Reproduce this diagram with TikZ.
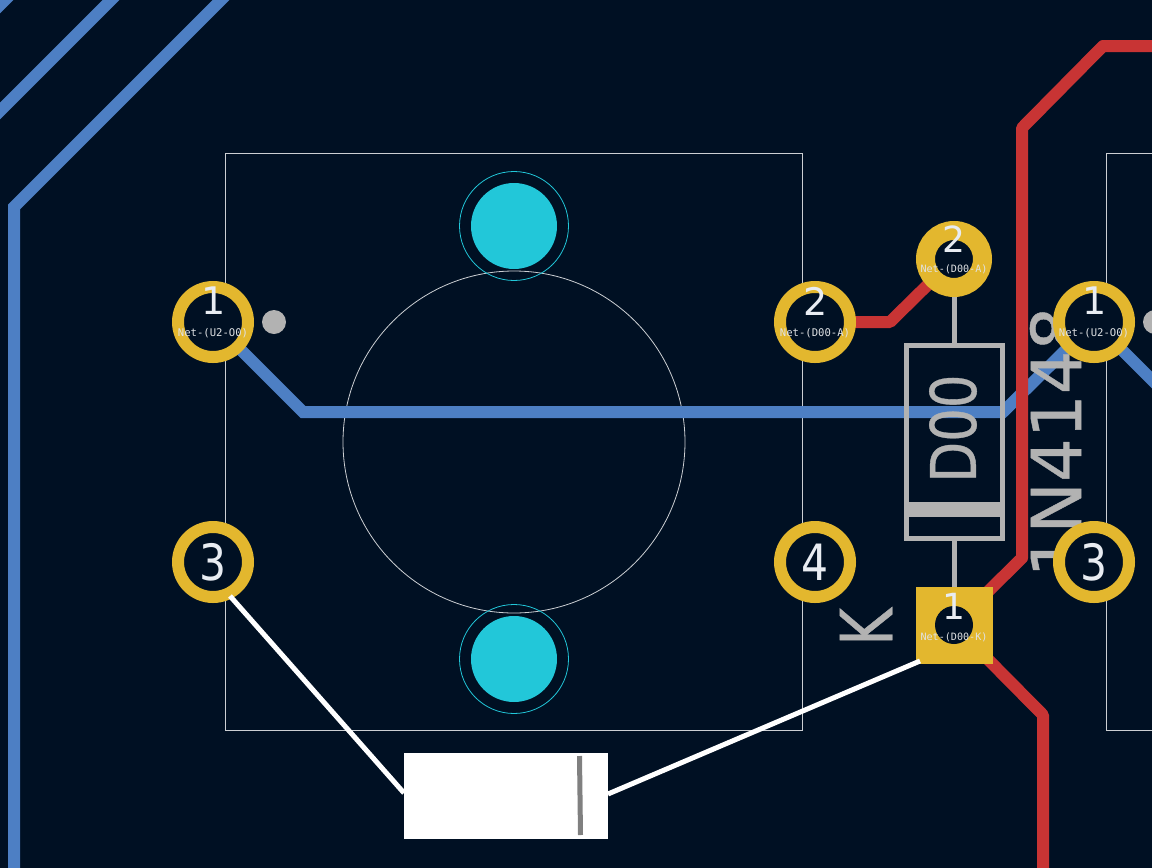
\documentclass[tikz,border=0pt]{standalone}
\usepackage{fontspec}
\setmainfont{DejaVu Sans}
\newfontfamily\netfont{DejaVu Sans Mono}
\newfontfamily\silkfont[FakeBold=0.6]{DejaVu Sans}
\usetikzlibrary{positioning}
\definecolor{board}{HTML}{001023}
\definecolor{backcu}{HTML}{4D7FC4}
\definecolor{frontcu}{HTML}{C83434}
\definecolor{padcol}{HTML}{E3B72E}
\definecolor{silk}{HTML}{B2B2B2}
\definecolor{mount}{HTML}{22C7D9}
\definecolor{numcol}{HTML}{E8ECF2}
\tikzset{x=1pt,y=-1pt,
  backtrace/.style={backcu,line width=12pt},
  fronttrace/.style={frontcu,line width=12pt},
  silkline/.style={silk,line width=5pt},
  outline/.style={draw=white!80!board,line width=0.8pt},
  rats/.style={white,line width=5pt},
  ringpad/.style={circle,draw=padcol,fill=board,line width=12pt,minimum size=70pt,inner sep=0pt},
  diopad/.style={circle,draw=padcol,fill=board,line width=19pt,minimum size=57pt,inner sep=0pt},
  netname/.style={text=white!88!board,font=\netfont\fontsize{10.6}{11}\selectfont,inner sep=0pt},
  padnum/.style={text=numcol,inner sep=0pt},
  silktext/.style={text=silk,inner sep=0pt}
}
\begin{document}
\begin{tikzpicture}
  \fill[board] (0,0) rectangle (1152,868);
  \useasboundingbox (0,0) rectangle (1152,868);
  % footprint outlines
  \draw[outline] (225.5,153.5) rectangle (802.5,730.5);
  \draw[outline] (1160,153.5) -- (1106.5,153.5) -- (1106.5,730.5) -- (1160,730.5);
  \draw[outline] (514,442) circle (171);
  % back copper
  \draw[backtrace] (14,875) -- (14,207) -- (226,-5);
  \draw[backtrace] (-5,116) -- (116,-5);
  \draw[backtrace] (-5,10) -- (10,-5);
  \draw[backtrace] (213,322) -- (303,412) -- (1003,412) -- (1094,322) -- (1160,388);
  % silk
  \node[silktext,rotate=90,font=\silkfont\fontsize{69}{69}\selectfont] (value) at (1056,442) {1N4148};
  \node[silktext,rotate=90,xscale=.84,font=\silkfont\fontsize{63}{63}\selectfont] (ref) at (953,428.5) {D00};
  \node[silktext,rotate=90,xscale=.8,font=\silkfont\fontsize{72}{72}\selectfont] (cathode) at (866,627) {K};
  \draw[silkline] (906.5,345.5) rectangle (1002.5,538.5);
  \fill[silk] (906.5,502) rectangle (1002.5,517);
  \fill[silk] (274,322) circle (12);
  \fill[silk] (1155,322) circle (12);
  % front copper
  \draw[fronttrace,line join=round] (1160,46) -- (1103,46) -- (1022,128) -- (1022,558) -- (954,625) -- (1043,715) -- (1043,875);
  \draw[fronttrace,line join=round] (815,322) -- (890,322) -- (954,259);
  % mounting holes
  \foreach \hy in {226,659} {
    \fill[mount] (514,\hy) circle (43);
    \draw[mount,line width=0.8pt] (514,\hy) circle (54.5);
  }
  % diode leads
  \coordinate (bodytop) at (954.5,345);
  \coordinate (bodybot) at (954.5,539);
  \node[diopad] (da) at (954,259) {};
  \node[fill=padcol,minimum size=77pt,inner sep=0pt] (dk) at (954.5,625.5) {};
  \fill[board] (954,625) circle (19);
  \draw[silkline] (da.south -| bodytop) -- (bodytop);
  \draw[silkline] (bodybot) -- (dk.north -| bodybot);
  % switch pads
  \node[ringpad] (swa) at (213,322) {};
  \node[ringpad] (swb) at (815,322) {};
  \node[ringpad] (swc) at (213,562) {};
  \node[ringpad] (swd) at (815,562) {};
  \node[ringpad] (nxa) at (1094,322) {};
  \node[ringpad] (nxc) at (1094,562) {};
  % pad numbers
  \foreach \pname/\ptxt in {swa/1,swb/2,nxa/1}
    \node[padnum,font=\fontsize{38}{38}\selectfont] at ([xshift=1pt,yshift=21pt]\pname.center) {\ptxt};
  \foreach \pname/\ptxt in {swc/3,swd/4,nxc/3}
    \node[padnum,xscale=.85,font=\fontsize{50}{50}\selectfont] at (\pname.center) {\ptxt};
  \node[padnum,font=\fontsize{36}{36}\selectfont] at (954,239) {2};
  \node[padnum,font=\fontsize{36}{36}\selectfont] at (954,606) {1};
  % net names
  \node[netname] at (213,333) {Net-(U2-O0)};
  \node[netname] at (815,333) {Net-(D00-A)};
  \node[netname] at (1094,333) {Net-(U2-O0)};
  \node[netname,font=\netfont\fontsize{10.1}{11}\selectfont] at (954,269) {Net-(D00-A)};
  \node[netname,font=\netfont\fontsize{10.1}{11}\selectfont] at (954,637) {Net-(D00-K)};
  % selected part
  \node[fill=white,minimum width=204pt,minimum height=86pt,inner sep=0pt] (part) at (506,796) {};
  \coordinate (ratc) at (230,596);
  \coordinate (ratk) at (920,661);
  \coordinate (partl) at (404,793);
  \coordinate (partr) at (608,794);
  \draw[rats] (ratc) -- (partl);
  \draw[rats] (partr) -- (ratk);
  \draw[gray,line width=5pt] (579.5,756) -- (580.5,835);
\end{tikzpicture}
\end{document}
